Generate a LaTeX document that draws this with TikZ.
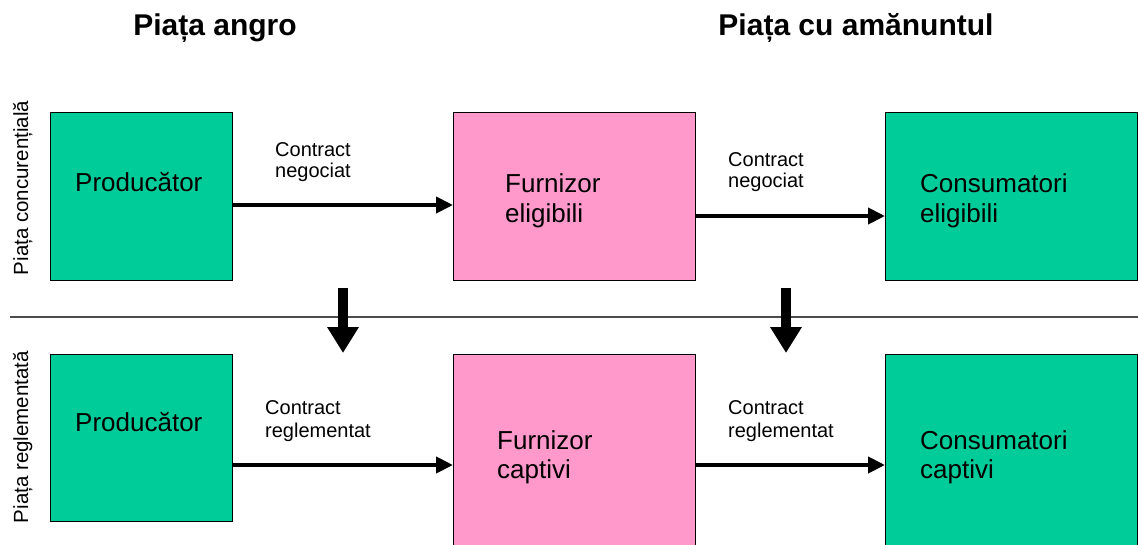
\documentclass[tikz,border=0pt]{standalone}
\usepackage{fontspec}
\setmainfont{Liberation Sans}
\usetikzlibrary{arrows.meta}
\definecolor{boxgreen}{RGB}{0,204,153}
\definecolor{boxpink}{RGB}{255,153,204}

\begin{document}
\begin{tikzpicture}[x=1pt,y=-1pt,
  box/.style={draw=black, line width=1pt, inner sep=0pt, outer sep=0pt, anchor=north west},
  gbox/.style={box, fill=boxgreen},
  pbox/.style={box, fill=boxpink},
  boxtext/.style={anchor=base west, inner sep=0pt, font=\fontsize{26}{30}\selectfont},
  lbl/.style={anchor=base west, inner sep=0pt, font=\fontsize{20}{22}\selectfont},
  headtitle/.style={anchor=base, inner sep=0pt, font=\fontsize{30}{34}\selectfont\bfseries},
  sidelabel/.style={anchor=base, inner sep=0pt, rotate=90, font=\fontsize{20.5}{22}\selectfont},
  flow/.style={line width=4pt, -{Triangle[length=17pt,width=16pt]}},
  drop/.style={line width=10pt, -{Triangle[length=26pt,width=30pt]}},
]
\useasboundingbox (0,0) rectangle (1138,544);
\clip (0,0) rectangle (1138,544);

% column titles
\node[headtitle] (tw) at (215,35) {Piața angro};
\node[headtitle] (tr) at (856,35) {Piața cu amănuntul};

% row titles
\node[sidelabel] (sc) at (28,188) {Piața concurențială};
\node[sidelabel] (sr) at (28,437) {Piața reglementată};

% separator between the two markets
\coordinate (sepL) at (10,317);
\coordinate (sepR) at (1138,317);
\draw[black!70, line width=1.3pt] (sepL) -- (sepR);

% competitive market
\node[gbox, minimum width=182pt, minimum height=168pt] (p1) at (50,112) {};
\node[pbox, minimum width=242pt, minimum height=168pt] (f1) at (453,112) {};
\node[gbox, minimum width=252pt, minimum height=168pt] (c1) at (885,112) {};

% regulated market
\node[gbox, minimum width=182pt, minimum height=167pt] (p2) at (50,354) {};
\node[pbox, minimum width=242pt, minimum height=222pt] (f2) at (453,354) {};
\node[gbox, minimum width=252pt, minimum height=222pt] (c2) at (885,354) {};

% box captions
\node[boxtext] (p1t) at (75,191) {Producător};
\node[boxtext] (f1t) at (505,192) {Furnizor};
\node[boxtext] (f1u) at (505,222) {eligibili};
\node[boxtext] (c1t) at (920,192) {Consumatori};
\node[boxtext] (c1u) at (920,222) {eligibili};

\node[boxtext] (p2t) at (75,431) {Producător};
\node[boxtext] (f2t) at (497,449) {Furnizor};
\node[boxtext] (f2u) at (497,478) {captivi};
\node[boxtext] (c2t) at (920,449) {Consumatori};
\node[boxtext] (c2u) at (920,478) {captivi};

% contract labels
\node[lbl] (l1a) at (275,156) {Contract};
\node[lbl] (l1b) at (275,177) {negociat};
\node[lbl] (l2a) at (728,166) {Contract};
\node[lbl] (l2b) at (728,187) {negociat};
\node[lbl] (l3a) at (265,414) {Contract};
\node[lbl] (l3b) at (265,437) {reglementat};
\node[lbl] (l4a) at (728,414) {Contract};
\node[lbl] (l4b) at (728,437) {reglementat};

% contract flows
\draw[flow] ([yshift=-9pt]p1.east) -- ([yshift=-9pt]f1.west);
\draw[flow] ([yshift=-20pt]f1.east) -- ([yshift=-20pt]c1.west);
\draw[flow] (p2.east |- f2.west) -- (f2.west);
\draw[flow] (f2.east) -- (c2.west);

% transitions from competitive to regulated
\coordinate (d1a) at (343,288);
\coordinate (d1b) at (343,353);
\coordinate (d2a) at (786,288);
\coordinate (d2b) at (786,353);
\draw[drop] (d1a) -- (d1b);
\draw[drop] (d2a) -- (d2b);
\end{tikzpicture}
\end{document}
